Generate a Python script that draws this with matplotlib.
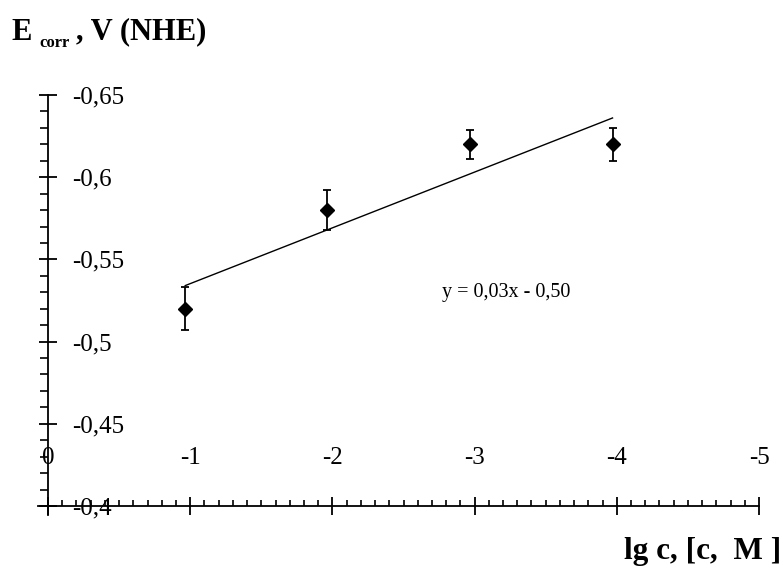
import numpy as np
import matplotlib
matplotlib.use("Agg")
import matplotlib.pyplot as plt
from matplotlib.ticker import MultipleLocator, FuncFormatter

# Data
lg_c = [-0.965, -1.965, -2.965, -3.97]
e_corr = [-0.52, -0.58, -0.62, -0.62]
e_err = [0.013, 0.012, 0.009, 0.010]
x_ticks = [0, -1, -2, -3, -4, -5]
y_ticks = [-0.65, -0.6, -0.55, -0.5, -0.45, -0.4]
y_labels = ["-0,65", "-0,6", "-0,55", "-0,5", "-0,45", "-0,4"]
equation = "y = 0,03x - 0,50"

plt.rcParams['font.family'] = ['Liberation Serif', 'DejaVu Serif']

fig = plt.figure(figsize=(7.83, 5.70), dpi=100)
ax = fig.add_axes([38/783, 1-515/570, (759-38)/783, (515-95)/570])

ax.set_xlim(0.0704, -5)
ax.set_ylim(-0.3945, -0.65)

# spines crossing at (0, -0.4)
for s in ['top', 'right']:
    ax.spines[s].set_visible(False)
ax.spines['left'].set_position(('data', 0))
ax.spines['bottom'].set_position(('data', -0.4))
ax.spines['left'].set_bounds(-0.3945, -0.65)
for s in ['left', 'bottom']:
    ax.spines[s].set_linewidth(1.3)
    ax.spines[s].set_color('black')

# trend line (least squares)
k, b = np.polyfit(lg_c, e_corr, 1)
xs = np.array([lg_c[0], lg_c[-1]])
ax.plot(xs, k*xs + b, color='black', lw=1.0)

ax.errorbar(lg_c, e_corr, yerr=e_err, fmt='D', color='black', ms=7,
            ecolor='black', elinewidth=1.3, capsize=3, capthick=1.3)

# ticks
ax.xaxis.set_major_locator(plt.FixedLocator(x_ticks))
ax.xaxis.set_minor_locator(MultipleLocator(0.1))
ax.yaxis.set_major_locator(plt.FixedLocator(y_ticks))
ax.yaxis.set_minor_locator(MultipleLocator(0.01))
ax.xaxis.set_major_formatter(FuncFormatter(lambda v, p: "0" if abs(v) < 1e-9 else "%d" % round(v)))
ax.yaxis.set_major_formatter(FuncFormatter(lambda v, p: y_labels[p] if p is not None and p < len(y_labels) else ""))

ax.tick_params(axis='both', which='major', direction='inout', length=13, width=1.3, labelsize=18)
ax.tick_params(axis='y', which='minor', direction='out', length=5.5, width=1.2)
ax.tick_params(axis='x', which='minor', direction='in', length=4, width=1.2)
ax.tick_params(axis='y', which='major', pad=-24)
ax.tick_params(axis='x', which='major', pad=-49)
for t in ax.get_yticklabels():
    t.set_horizontalalignment('left')

ax.text(506/783, 1-293/570, equation, transform=fig.transFigure, ha='center', va='center', fontsize=14.5)

fig.text(11/783, 1-32/570, r"E", fontsize=22, fontweight='bold', ha='left', va='center')
fig.text(39/783, 1-43/570, "corr", fontsize=12, fontweight='bold', ha='left', va='center')
fig.text(76/783, 1-32/570, ", V (NHE)", fontsize=22, fontweight='bold', ha='left', va='center')
fig.text(781/783, 1-551/570, "lg c, [c,  M ]", fontsize=22.5, fontweight='bold', ha='right', va='center')

fig.savefig("out.png", dpi=100)
